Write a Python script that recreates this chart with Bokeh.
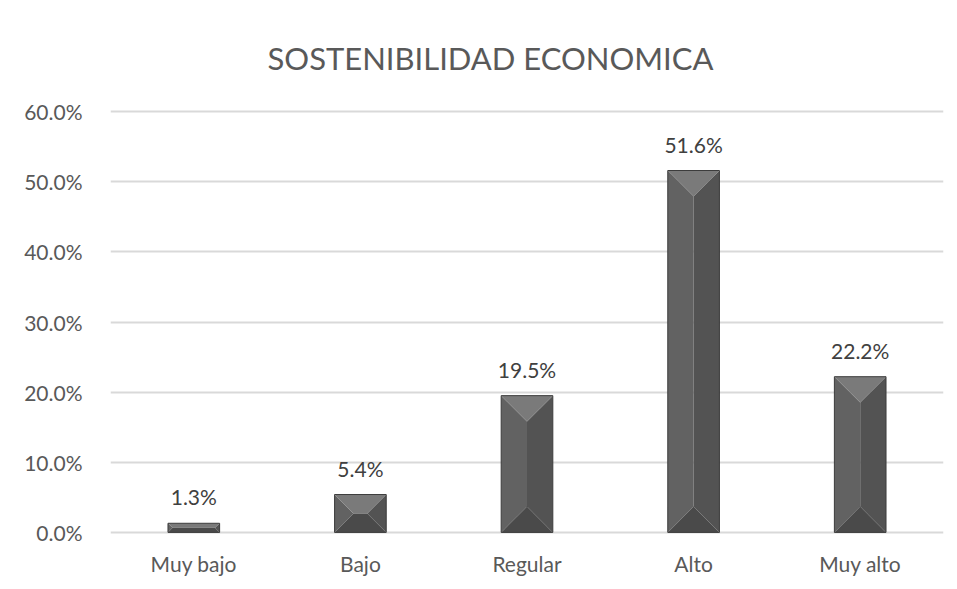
from bokeh.plotting import figure
from bokeh.models import Range1d, FixedTicker, Title, ColumnDataSource, LabelSet
from bokeh.core.properties import value
from bokeh.embed import file_html
from bokeh.resources import INLINE

categories = ["Muy bajo", "Bajo", "Regular", "Alto", "Muy alto"]
values = [1.3, 5.4, 19.5, 51.6, 22.2]
labels = ["1.3%", "5.4%", "19.5%", "51.6%", "22.2%"]
y_ticks = [0, 10, 20, 30, 40, 50, 60]

W, H = 949, 586
ML, MR, MT, MB = 110, 6, 109, 52
frame_w = W - ML - MR
frame_h = H - MT - MB
Y0, Y1 = -0.3, 60.3
px_x = frame_w / len(categories)
px_y = frame_h / (Y1 - Y0)
bw = 0.31
FONT = "Lato"

p = figure(width=W, height=H, output_backend="svg", toolbar_location=None,
           x_range=Range1d(0, len(categories)), y_range=Range1d(Y0, Y1),
           min_border_left=ML, min_border_right=MR, min_border_top=MT, min_border_bottom=MB)
p.outline_line_color = None
p.title = Title(text="SOSTENIBILIDAD ECONOMICA", align="left", offset=157,
                text_font=FONT, text_font_size="31px", text_font_style="normal",
                text_color="#595959", standoff=66)

xc = [i + 0.5 for i in range(len(categories))]

# bevel faces
faces = {"top": [], "bottom": [], "left": [], "right": []}
for c, v in zip(xc, values):
    x0, x1 = c - bw / 2, c + bw / 2
    e_px = min(bw * px_x / 2, v * px_y / 2)
    ex, ey = e_px / px_x, e_px / px_y
    faces["top"].append(([x0, x1, x1 - ex, x0 + ex], [v, v, v - ey, v - ey]))
    faces["bottom"].append(([x0, x1, x1 - ex, x0 + ex], [0, 0, ey, ey]))
    faces["left"].append(([x0, x0, x0 + ex, x0 + ex], [0, v, v - ey, ey]))
    faces["right"].append(([x1, x1, x1 - ex, x1 - ex], [0, v, v - ey, ey]))
colors = {"left": "#626262", "right": "#535353", "top": "#7a7a7a", "bottom": "#4a4a4a"}
for k in ["left", "right", "top", "bottom"]:
    p.patches(xs=[f[0] for f in faces[k]], ys=[f[1] for f in faces[k]],
              fill_color=colors[k], line_color=None)
p.vbar(x=xc, top=values, width=bw, fill_color=None, line_color="#3c3c3c", line_width=1)

src = ColumnDataSource(dict(x=xc, y=values, t=labels))
p.add_layout(LabelSet(x="x", y="y", text="t", source=src, text_align="center",
                      text_baseline="bottom", y_offset=14, text_font=value(FONT),
                      text_font_size="21px", text_color="#404040"))

p.xgrid.grid_line_color = None
p.ygrid.ticker = FixedTicker(ticks=y_ticks)
p.ygrid.grid_line_color = "#d9d9d9"
p.ygrid.grid_line_width = 2

p.yaxis.ticker = FixedTicker(ticks=y_ticks)
p.yaxis.major_label_overrides = {t: f"{t:.1f}%" for t in y_ticks}
p.xaxis.ticker = FixedTicker(ticks=xc)
p.xaxis.major_label_overrides = {c: n for c, n in zip(xc, categories)}
for ax in [p.xaxis[0], p.yaxis[0]]:
    ax.axis_line_color = None
    ax.major_tick_line_color = None
    ax.minor_tick_line_color = None
    ax.major_label_text_font = FONT
    ax.major_label_text_font_size = "21px"
    ax.major_label_text_color = "#595959"
p.yaxis.major_label_standoff = 22
p.xaxis.major_label_standoff = 10

open("out.html", "w").write(file_html(p, INLINE))
